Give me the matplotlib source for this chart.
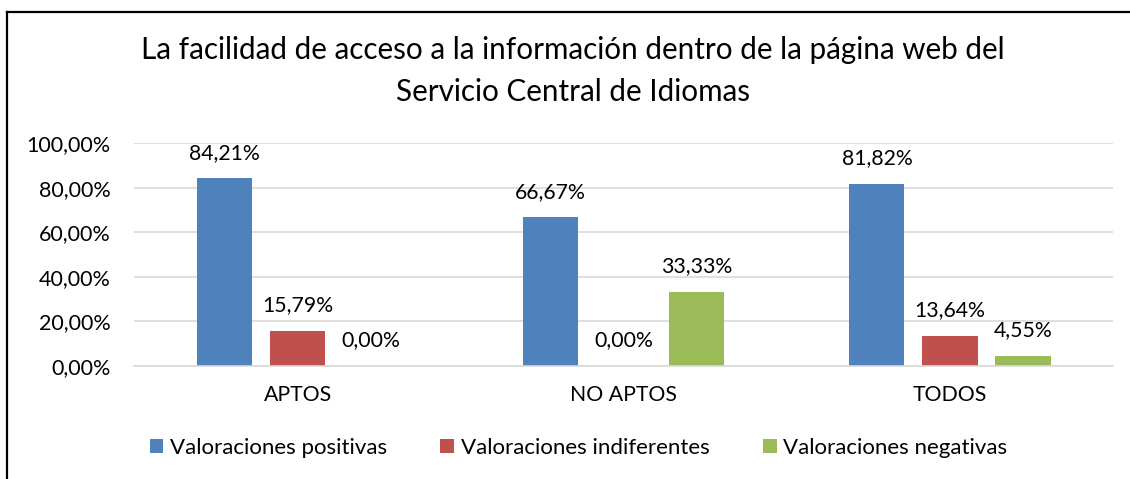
import numpy as np
import matplotlib.pyplot as plt
from matplotlib.lines import Line2D

plt.rcParams['font.family'] = ['Lato', 'DejaVu Sans']

# Datos del gráfico
categorias = ["APTOS", "NO APTOS", "TODOS"]
positivas = [84.21, 66.67, 81.82]
indiferentes = [15.79, 0.00, 13.64]
negativas = [0.00, 33.33, 4.55]
series = ["Valoraciones positivas", "Valoraciones indiferentes", "Valoraciones negativas"]
colores = ["#4F81BD", "#C0504D", "#9BBB59"]

fig = plt.figure(figsize=(11.3, 4.79), dpi=100)
ax = fig.add_axes([0.119, 0.236, 0.866, 0.465])

x = np.arange(len(categorias))
ancho = 0.169
paso = 0.224
for i, (vals, nombre, col) in enumerate(zip([positivas, indiferentes, negativas], series, colores)):
    pos = x + (i - 1) * paso
    ax.bar(pos, vals, ancho, color=col, label=nombre)
    for px, v in zip(pos, vals):
        ax.annotate(f"{v:.2f}%".replace(".", ","), (px, v), xytext=(0, 14), textcoords="offset points",
                    ha="center", va="baseline", fontsize=15.3, color="#000000")

ax.set_xlim(-0.5, 2.5)
ax.set_ylim(0, 100)
ax.set_yticks(np.arange(0, 101, 20))
ax.set_yticklabels([f"{t:.2f}%".replace(".", ",") for t in np.arange(0, 101, 20)], fontsize=15.5)
ax.set_xticks(x)
ax.set_xticklabels(categorias, fontsize=15.3)
ax.tick_params(axis="y", length=0, pad=17)
ax.tick_params(axis="x", length=0, pad=14)
ax.grid(axis="y", color="#D9D9D9", linewidth=1.2)
ax.set_axisbelow(True)
for s in ["top", "right", "left"]:
    ax.spines[s].set_visible(False)
ax.spines["bottom"].set_color("#D9D9D9")
ax.spines["bottom"].set_linewidth(1.2)

fig.text(0.507, 1 - 50 / 479, "La facilidad de acceso a la información dentro de la página web del",
         ha="center", va="center", fontsize=21.3)
fig.text(0.507, 1 - 92 / 479, "Servicio Central de Idiomas",
         ha="center", va="center", fontsize=21.3)

fig.legend(loc="center", bbox_to_anchor=(0.512, 1 - 448 / 479), ncol=3, frameon=False,
           fontsize=16, handlelength=0.62, handleheight=0.62, handletextpad=0.3, columnspacing=2.4)

# marco recortado (solo arriba e izquierda)
fig.add_artist(Line2D([7 / 1130, 1], [1 - 12 / 479, 1 - 12 / 479], color="black", linewidth=1.6))
fig.add_artist(Line2D([7 / 1130, 7 / 1130], [0, 1 - 12 / 479], color="black", linewidth=1.6))

fig.savefig("out.png", dpi=100)
